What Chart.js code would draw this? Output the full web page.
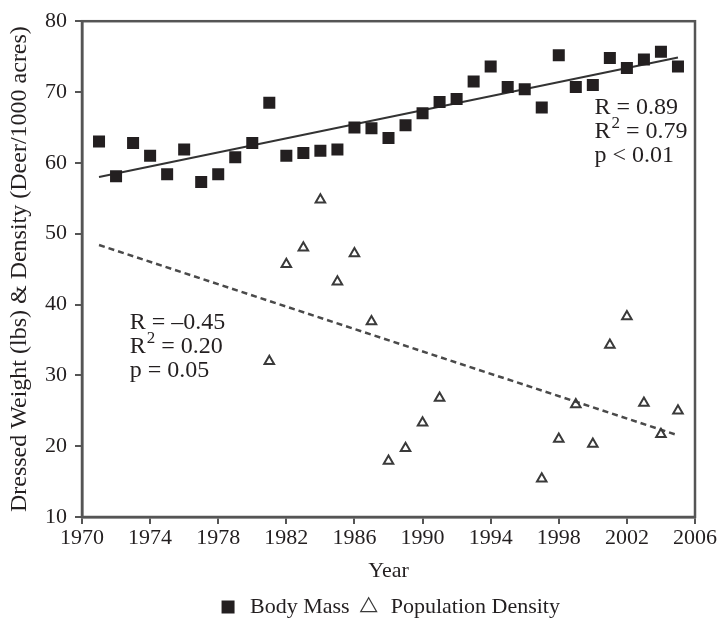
<!DOCTYPE html>
<html>
<head>
<meta charset="utf-8">
<script src="https://cdn.jsdelivr.net/npm/chart.js@4.4.1/dist/chart.umd.min.js"></script>
<style>
  html, body { margin: 0; padding: 0; background: #fff; }
</style>
</head>
<body>
<canvas id="deerChart" width="719" height="620"></canvas>
<script>
// Data
const massYears = [1971, 1972, 1973, 1974, 1975, 1976, 1977, 1978, 1979, 1980, 1981, 1982, 1983, 1984, 1985, 1986, 1987, 1988,
    1989, 1990, 1991, 1992, 1993, 1994, 1995, 1996, 1997, 1998, 1999, 2000, 2001, 2002, 2003, 2004, 2005];
const massValues = [63.0, 58.1, 62.8, 61.0, 58.4, 61.9, 57.3, 58.4, 60.8, 62.8, 68.5, 61.0, 61.4, 61.7, 61.9, 65.0, 64.9, 63.5,
    65.3, 67.0, 68.6, 69.0, 71.5, 73.6, 70.7, 70.4, 67.8, 75.2, 70.7, 71.0, 74.8, 73.4, 74.6, 75.7, 73.6];
const densityYears = [1981, 1982, 1983, 1984, 1985, 1986, 1987, 1988, 1989, 1990, 1991,
    1997, 1998, 1999, 2000, 2001, 2002, 2003, 2004, 2005];
const densityValues = [32.0, 45.7, 48.0, 54.8, 43.2, 47.2, 37.6, 17.9, 19.7, 23.3, 26.8,
    15.4, 21.0, 25.9, 20.3, 34.3, 38.3, 26.1, 21.7, 25.0];
const trendYears = [1971, 2005];
const xTicks = [1970, 1974, 1978, 1982, 1986, 1990, 1994, 1998, 2002, 2006];
const yTicks = [10, 20, 30, 40, 50, 60, 70, 80];

const massNote = [['R = 0.89', '', ''], ['R', '2', ' = 0.79'], ['p < 0.01', '', '']];
const densityNote = [['R = \u20130.45', '', ''], ['R', '2', ' = 0.20'], ['p = 0.05', '', '']];

const ink = '#231f20';
const axisGray = '#555555';
const serif = "'Liberation Serif', 'DejaVu Serif', serif";

// least squares trend
function trend(xs, ys) {
    const n = xs.length;
    const mx = xs.reduce((a, b) => a + b, 0) / n;
    const my = ys.reduce((a, b) => a + b, 0) / n;
    let sxy = 0, sxx = 0;
    xs.forEach((x, i) => { sxy += (x - mx) * (ys[i] - my); sxx += (x - mx) * (x - mx); });
    const b = sxy / sxx;
    return trendYears.map(x => ({ x: x, y: my + b * (x - mx) }));
}

const toPoints = (xs, ys) => xs.map((x, i) => ({ x: x, y: ys[i] }));

// stats text blocks
function drawNote(ctx, x, y, lines) {
    ctx.save();
    ctx.fillStyle = ink;
    ctx.textBaseline = 'middle';
    ctx.textAlign = 'left';
    lines.forEach((ln, i) => {
        const ly = y + i * 24;
        let cx = x;
        ctx.font = '24px ' + serif;
        ctx.fillText(ln[0], cx, ly);
        cx += ctx.measureText(ln[0]).width;
        if (ln[1]) {
            ctx.font = '17px ' + serif;
            ctx.fillText(ln[1], cx + 1, ly - 8);
            cx += ctx.measureText(ln[1]).width + 1;
            ctx.font = '24px ' + serif;
            ctx.fillText(ln[2], cx, ly);
        }
    });
    ctx.restore();
}

const notesPlugin = {
    id: 'notes',
    afterDatasetsDraw(chart) {
        const { ctx, scales: { x, y } } = chart;
        drawNote(ctx, x.getPixelForValue(2000.1), y.getPixelForValue(67.8), massNote);
        drawNote(ctx, x.getPixelForValue(1972.8), y.getPixelForValue(37.4), densityNote);
    }
};

const framePlugin = {
    id: 'frame',
    afterDraw(chart) {
        const { ctx, chartArea: a } = chart;
        ctx.save();
        ctx.strokeStyle = axisGray;
        ctx.lineWidth = 2.5;
        ctx.strokeRect(a.left, a.top, a.right - a.left, a.bottom - a.top);
        ctx.restore();
    }
};

const ctx = document.getElementById('deerChart').getContext('2d');
new Chart(ctx, {
    type: 'scatter',
    data: {
        datasets: [
            {
                label: 'Body Mass',
                data: toPoints(massYears, massValues),
                pointStyle: 'rect',
                pointRadius: 8.5,
                backgroundColor: ink,
                borderColor: ink,
                borderWidth: 0
            },
            {
                label: 'Population Density',
                data: toPoints(densityYears, densityValues),
                pointStyle: 'triangle',
                pointRadius: 5.5,
                backgroundColor: 'rgba(255,255,255,0)',
                borderColor: '#3a3a3a',
                borderWidth: 2
            },
            {
                label: 'mass trend',
                data: trend(massYears, massValues),
                showLine: true,
                pointRadius: 0,
                borderColor: '#333333',
                borderWidth: 2
            },
            {
                label: 'density trend',
                data: trend(densityYears, densityValues),
                showLine: true,
                pointRadius: 0,
                borderColor: '#4a4a4a',
                borderWidth: 2.5,
                borderDash: [6, 4]
            }
        ]
    },
    options: {
        responsive: false,
        animation: false,
        layout: { padding: { left: 2, right: 24, top: 16, bottom: -8 } },
        scales: {
            x: {
                type: 'linear',
                min: 1970,
                max: 2006,
                afterBuildTicks: s => { s.ticks = xTicks.map(v => ({ value: v })); },
                afterFit: s => { s.height = 71; },
                grid: { drawOnChartArea: false, tickLength: 7, color: axisGray, lineWidth: 2 },
                border: { color: axisGray, width: 2.5 },
                ticks: { color: ink, padding: 1, maxRotation: 0, callback: v => String(v), font: { family: serif, size: 22 } },
                title: { display: true, text: 'Year', color: ink, padding: { top: 0, bottom: 4 }, font: { family: serif, size: 22 } }
            },
            y: {
                min: 10,
                max: 80,
                afterBuildTicks: s => { s.ticks = yTicks.map(v => ({ value: v })); },
                afterFit: s => { s.width = 80; },
                grid: { drawOnChartArea: false, tickLength: 7, color: axisGray, lineWidth: 2 },
                border: { color: axisGray, width: 2.5 },
                ticks: { color: ink, padding: 8, callback: v => String(v), font: { family: serif, size: 22 } },
                title: {
                    display: true,
                    text: 'Dressed Weight (lbs) & Density (Deer/1000 acres)',
                    color: ink,
                    padding: { top: 3, bottom: 0 },
                    font: { family: serif, size: 24 }
                }
            }
        },
        plugins: {
            tooltip: { enabled: false },
            legend: {
                position: 'bottom',
                fullSize: false,
                labels: {
                    color: ink,
                    font: { family: serif, size: 22 },
                    usePointStyle: true,
                    boxHeight: 13,
                    padding: 8,
                    generateLabels: chart => chart.data.datasets.slice(0, 2).map((d, i) => ({
                        text: d.label,
                        datasetIndex: i,
                        pointStyle: d.pointStyle,
                        fillStyle: i === 0 ? ink : 'rgba(255,255,255,0)',
                        strokeStyle: i === 0 ? ink : '#3a3a3a',
                        lineWidth: i === 0 ? 0 : 1.2,
                        fontColor: ink
                    }))
                }
            }
        }
    },
    plugins: [notesPlugin, framePlugin]
});
</script>
</body>
</html>
